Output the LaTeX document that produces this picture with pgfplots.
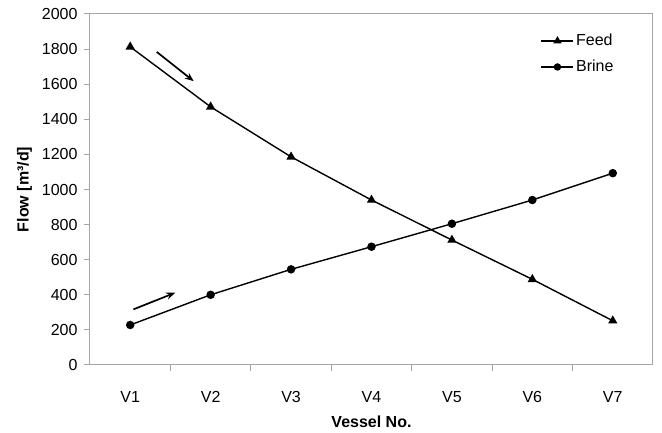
\documentclass[border=0pt]{standalone}
\usepackage{fontspec}
\setmainfont{Liberation Sans}
\usepackage{pgfplots}
\pgfplotsset{compat=1.18}
\usetikzlibrary{arrows.meta}
\newcommand{\ff}{\fontsize{16}{19}\selectfont}
\begin{document}
\ff
\begin{tikzpicture}
\path (-90pt,-67pt) rectangle (572pt,365pt);
\begin{axis}[
  at={(0pt,0pt)}, anchor=south west,
  scale only axis, width=563pt, height=351pt,
  xmin=-0.5, xmax=6.5, ymin=0, ymax=2000,
  xtick={0,...,6}, xticklabels={V1,V2,V3,V4,V5,V6,V7},
  minor xtick={0.5,1.5,...,5.5},
  ytick={0,200,...,2000},
  xtick pos=bottom, ytick pos=left,
  tick align=outside,
  major tick length=6pt, minor tick length=6pt,
  xtick style={draw=none},
  minor x tick style={draw=gray!70, line width=1pt},
  ytick style={draw=gray!70, line width=1pt},
  axis line style={gray!70, line width=1pt},
  /pgf/number format/assume math mode=true,
  /pgf/number format/1000 sep={},
  every tick label/.append style={font=\ff},
  xticklabel style={yshift=-15pt},
  yticklabel style={xshift=-1pt},
  xlabel={\textbf{Vessel No.}},
  ylabel={\textbf{Flow [m³/d]}},
  every axis label/.append style={font=\ff},
  xlabel style={yshift=-2pt},
  ylabel style={yshift=-1pt},
  legend style={at={(rel axis cs:0.795,0.955)}, anchor=north west, draw=none, fill=none,
    font=\ff, row sep=8pt},
  legend cell align=left,
]
\addplot[black, line width=1.4pt, mark=triangle*, mark size=4pt,
  legend image code/.code={\draw[line width=1.4pt] (0pt,0pt)--(32pt,0pt); \draw[mark size=3.5pt] plot[mark=triangle*] coordinates {(16pt,0pt)};}] coordinates {
 (0,1813) (1,1471) (2,1186) (3,940) (4,712) (5,488) (6,252)};
\addlegendentry{Feed}
\addplot[black, line width=1.4pt, mark=*, mark size=3.5pt,
  legend image code/.code={\draw[line width=1.4pt] (0pt,0pt)--(32pt,0pt); \draw[mark size=3pt] plot[mark=*] coordinates {(16pt,0pt)};}] coordinates {
 (0,228) (1,400) (2,545) (3,674) (4,805) (5,940) (6,1093)};
\addlegendentry{Brine}
\addplot[black, line width=1.7pt, -{Stealth[length=9pt,width=7pt]}, forget plot] coordinates {(0.33,1784) (0.79,1617)};
\addplot[black, line width=1.7pt, -{Stealth[length=9pt,width=7pt]}, forget plot] coordinates {(0.04,317) (0.56,412)};
\end{axis}
\end{tikzpicture}
\end{document}
